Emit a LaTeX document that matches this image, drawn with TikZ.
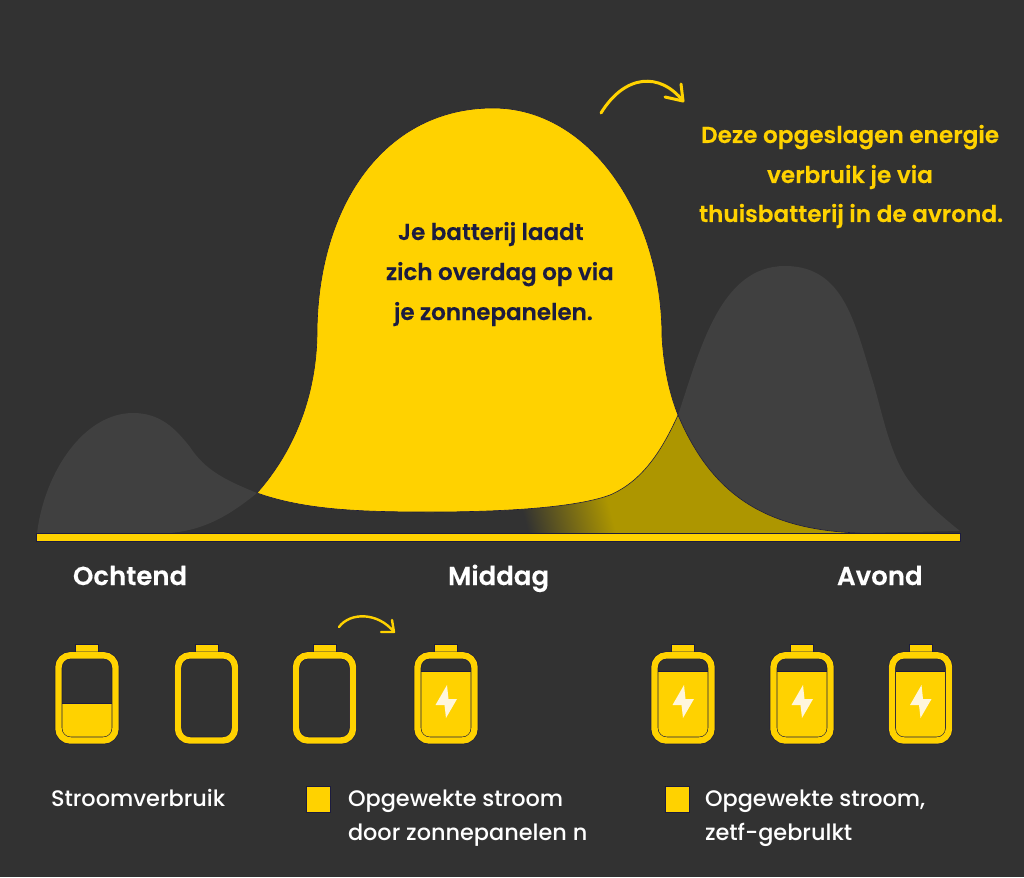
\documentclass[tikz,border=0pt]{standalone}
\usepackage{fontspec}
\setmainfont{Poppins Medium}[BoldFont={Poppins SemiBold},BoldFeatures={FakeBold=0.25}]
\usetikzlibrary{shadings}
\definecolor{bgc}{HTML}{323232}
\definecolor{yel}{HTML}{FFD200}
\definecolor{hump}{HTML}{404040}
\definecolor{olive}{HTML}{AD9600}
\definecolor{navy}{HTML}{1C1C40}
\definecolor{bolt}{HTML}{FFF6DC}
\tikzset{
  lbl/.style={anchor=base west,inner sep=0pt,outer sep=0pt},
  darktxt/.style={lbl,text=navy,font=\fontsize{23}{25}\selectfont\bfseries},
  yeltxt/.style={lbl,text=yel,font=\fontsize{23.2}{25}\selectfont\bfseries},
  timetxt/.style={lbl,text=white,font=\fontsize{26}{28}\selectfont\bfseries},
  legtxt/.style={lbl,text=white,font=\fontsize{22.4}{24}\selectfont},
  swatch/.style={fill=yel,draw=navy,line width=.6pt},
  curvearrow/.style={draw=yel,line cap=round,line join=round},
}
\newcommand{\battery}[3]{% centre x, fill top y, bolt?
  \begin{scope}[shift={(#1,0)}]
    \fill[yel] (-11.5,644) rectangle (11.5,654);
    \draw[navy,line width=.5pt] (-11.5,652) -- (-11.5,644) -- (11.5,644) -- (11.5,652);
    \ifnum#2>0
      \fill[yel] (-25,#2) -- (25,#2) [rounded corners=9pt] -- (25,738) -- (-25,738) [sharp corners] -- cycle;
      \draw[navy,line width=.6pt] (-25,#2) -- (25,#2);
    \fi
    \draw[navy,line width=7.6pt,rounded corners=12pt] (-28.5,655.3) rectangle (28.5,740.5);
    \draw[yel,line width=6.4pt,rounded corners=12pt] (-28.5,655.3) rectangle (28.5,740.5);
    \ifnum#3=1
      \fill[bolt] (1,685) -- (-10.5,705) -- (-1.5,705) -- (0,718) -- (11,699) -- (2.5,699) -- cycle;
    \fi
  \end{scope}
}
\begin{document}
\begin{tikzpicture}[x=1pt,y=-1pt]
\useasboundingbox (0,0) rectangle (1024,877);
\fill[bgc] (0,0) rectangle (1024,877);

% left hump
\fill[hump] (37,533) .. controls (45,470) and (85,413) .. (133,413)
  .. controls (160,413) and (175,428) .. (190,447)
  .. controls (205,470) and (225,480) .. (257,493)
  .. controls (230,515) and (205,530) .. (170,533) -- cycle;
% right hump
\fill[hump] (678,415) .. controls (700,350) and (720,266) .. (785,266)
  .. controls (845,266) and (855,325) .. (874,385)
  .. controls (885,425) and (890,450) .. (905,475)
  .. controls (920,498) and (940,515) .. (960,531)
  -- (860,533) .. controls (760,530) and (710,490) .. (678,415) -- cycle;
% olive wedge with fading left end
\fill[olive] (560,533) -- (560,500) -- (678,415) .. controls (710,490) and (760,530) .. (860,533) -- cycle;
\begin{scope}
  \clip (500,480) rectangle (640,533);
  \begin{scope}[transform canvas={rotate around={15:(570,515)}}]
    \shade[left color=bgc,right color=olive] (525,400) rectangle (610,640);
  \end{scope}
\end{scope}
\draw[navy,line width=.6pt] (672,400) -- (678,415) .. controls (710,490) and (760,530) .. (860,533);
% yellow bell
\path[fill=yel,draw=navy,line width=.6pt] (257,493)
  .. controls (295,450) and (316,395) .. (317,335)
  .. controls (317,205) and (385,108) .. (493,108)
  .. controls (590,108) and (662,215) .. (662,337)
  .. controls (664,370) and (670,395) .. (678,415)
  .. controls (660,455) and (640,482) .. (610,495)
  .. controls (575,508) and (500,512) .. (430,512)
  .. controls (360,512) and (305,510) .. (257,493) -- cycle;
% baseline
\fill[yel] (36,533) rectangle (960,541);
\draw[navy,line width=.6pt] (36,533) rectangle (960,541);

% arrows
\coordinate (a1s) at (601,113); \coordinate (a1e) at (683,101);
\coordinate (a1b) at (665,97); \coordinate (a1c) at (681,84);
\draw[curvearrow,line width=3pt] (a1s) .. controls (625,74) and (660,72) .. (a1e);
\draw[curvearrow,line width=3pt] (a1b) -- (a1e) -- (a1c);
\coordinate (a2s) at (339,627); \coordinate (a2e) at (394,632);
\coordinate (a2b) at (381,632); \coordinate (a2c) at (392,620);
\draw[curvearrow,line width=2.4pt] (a2s) .. controls (350,612) and (378,612) .. (a2e);
\draw[curvearrow,line width=2.4pt] (a2b) -- (a2e) -- (a2c);

% batteries
\battery{87}{703}{0}
\battery{206.5}{0}{0}
\battery{324.5}{0}{0}
\battery{446}{671}{1}
\battery{683}{671}{1}
\battery{802}{671}{1}
\battery{920.5}{671}{1}

% swatches
\node[swatch,minimum width=24pt,minimum height=26pt,inner sep=0pt] (sw1) at (318,799) {};
\node[swatch,minimum width=24pt,minimum height=26pt,inner sep=0pt] (sw2) at (677,799) {};

% texts
\node[darktxt] (t1) at (398,240) {Je batterij laadt};
\node[darktxt] (t2) at (386,280) {zich overdag op via};
\node[darktxt] (t3) at (394,320) {je zonnepanelen.};
\node[yeltxt] (y1) at (701,143) {Deze opgeslagen energie};
\node[yeltxt] (y2) at (767,183) {verbruik je via};
\node[yeltxt] (y3) at (699,222) {thuisbatterij in de avrond.};
\node[timetxt] (o) at (73,585) {Ochtend};
\node[timetxt] (m) at (448,585) {Middag};
\node[timetxt] (a) at (837,585) {Avond};
\node[legtxt] (l1) at (51,806) {Stroomverbruik};
\node[legtxt] (l2) at (348,806) {Opgewekte stroom};
\node[legtxt] (l3) at (348,840) {door zonnepanelen n};
\node[legtxt] (l4) at (705,806) {Opgewekte stroom,};
\node[legtxt] (l5) at (705,840) {zetf-gebrulkt};
\end{tikzpicture}
\end{document}
